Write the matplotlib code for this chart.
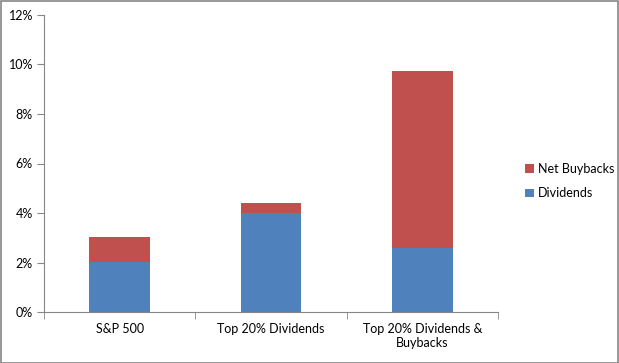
import matplotlib.pyplot as plt
import numpy as np
from matplotlib.patches import Rectangle
from matplotlib.ticker import FuncFormatter

categories = ["S&P 500", "Top 20% Dividends", "Top 20% Dividends &\nBuybacks"]
dividends = [2.04, 3.99, 2.61]
net_buybacks = [1.00, 0.42, 7.12]

blue = "#4f81bd"
red = "#c0504d"
axis_gray = "#868686"

plt.rcParams["font.family"] = ["Lato", "DejaVu Sans"]

fig = plt.figure(figsize=(6.19, 3.63), dpi=100)
ax = fig.add_axes([44 / 619, 1 - 312.3 / 363, 454 / 619, 297.6 / 363])

x = np.arange(len(categories))
b1 = ax.bar(x, dividends, width=0.4, color=blue, label="Dividends")
b2 = ax.bar(x, net_buybacks, width=0.4, bottom=dividends, color=red, label="Net Buybacks")

ax.set_xlim(-0.5, len(categories) - 0.5)
ax.set_ylim(0, 12)
ax.set_yticks(np.arange(0, 13, 2))
ax.yaxis.set_major_formatter(FuncFormatter(lambda v, p: f"{v:.0f}%"))

ax.set_xticks(x)
ax.set_xticklabels(categories, fontsize=9)
ax.set_xticks(np.arange(-0.5, len(categories), 1), minor=True)
ax.tick_params(axis="x", which="major", length=0, pad=8)
ax.tick_params(axis="x", which="minor", length=5, color=axis_gray, direction="out")
ax.tick_params(axis="y", length=5, color=axis_gray, labelsize=9, pad=3)

for side in ["top", "right"]:
    ax.spines[side].set_visible(False)
for side in ["left", "bottom"]:
    ax.spines[side].set_color(axis_gray)

fig.legend([b2, b1], ["Net Buybacks", "Dividends"], loc="center left",
           bbox_to_anchor=(514 / 619, 1 - 181 / 363), frameon=False, fontsize=9,
           handlelength=0.7, handleheight=0.7, handletextpad=0.3, labelspacing=1.0)

fig.patches.append(Rectangle((0.5 / 619, 0.5 / 363), 617.5 / 619, 361.5 / 363,
                             transform=fig.transFigure, fill=False,
                             edgecolor=axis_gray, linewidth=1.2))

fig.savefig("out.png", dpi=100)
